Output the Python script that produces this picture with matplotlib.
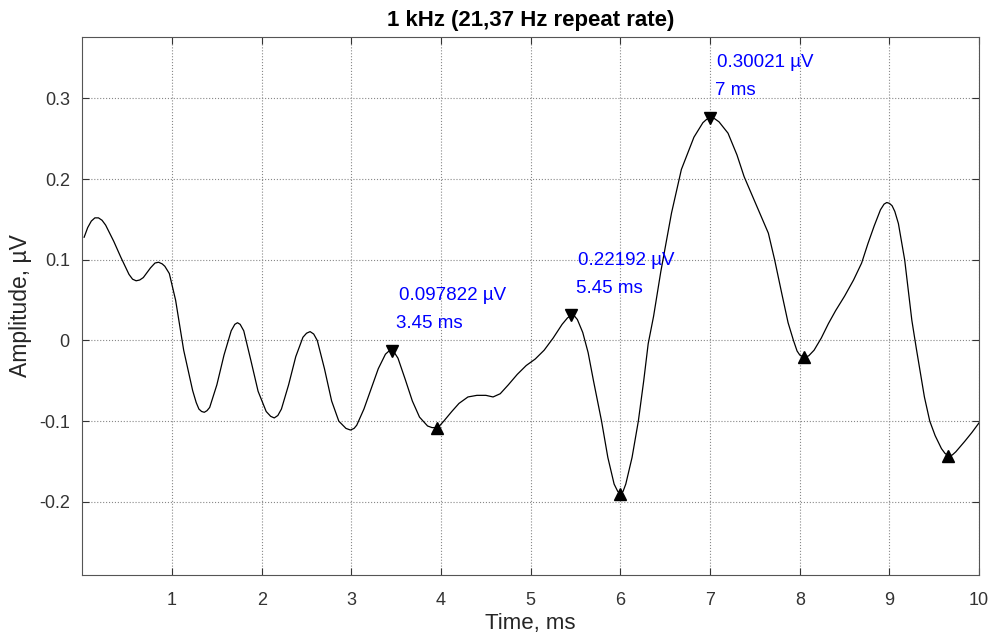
import numpy as np
import matplotlib
matplotlib.use('Agg')
import matplotlib.pyplot as plt

plt.rcParams['font.family'] = ['Liberation Sans', 'DejaVu Sans']

# waveform (time ms, amplitude uV)
t = [0.02, 0.06, 0.10, 0.14, 0.18, 0.22, 0.26, 0.35, 0.43, 0.52, 0.56, 0.60, 0.64, 0.68, 0.76, 0.81, 0.85, 0.89, 0.92, 0.97,
     1.04, 1.13, 1.23, 1.27, 1.30, 1.33, 1.36, 1.39, 1.42, 1.50, 1.58, 1.66, 1.70, 1.73, 1.76, 1.80, 1.88, 1.96,
     2.05, 2.10, 2.14, 2.18, 2.22, 2.30, 2.38, 2.46, 2.50, 2.54, 2.58, 2.62, 2.70, 2.78, 2.86, 2.94, 2.99,
     3.03, 3.06, 3.14, 3.22, 3.30, 3.38, 3.42, 3.45, 3.48, 3.52, 3.60, 3.68, 3.76, 3.85, 3.90, 3.95,
     3.99, 4.03, 4.12, 4.20, 4.30, 4.40, 4.50, 4.58, 4.66, 4.75, 4.85, 4.95,
     5.05, 5.15, 5.25, 5.35, 5.41, 5.45, 5.49, 5.52, 5.58, 5.64, 5.70, 5.79, 5.86, 5.93, 5.97,
     6.00, 6.03, 6.06, 6.13, 6.20, 6.26, 6.31, 6.37, 6.45, 6.57, 6.68, 6.82, 6.92, 6.96,
     7.00, 7.05, 7.10, 7.20, 7.30, 7.38, 7.50, 7.65, 7.72, 7.80, 7.87, 7.93, 7.97,
     8.00, 8.05, 8.10, 8.16, 8.24, 8.32, 8.40, 8.50, 8.60, 8.69, 8.76, 8.83, 8.90, 8.94, 8.97,
     9.00, 9.03, 9.06, 9.10, 9.17, 9.25, 9.30, 9.39, 9.45, 9.51, 9.58, 9.62, 9.66, 9.70, 9.74, 9.84, 9.92, 10.0]
amp = [0.128, 0.140, 0.148, 0.152, 0.152, 0.149, 0.143, 0.123, 0.103, 0.082, 0.076, 0.074, 0.075, 0.078, 0.090, 0.096, 0.097, 0.095, 0.092, 0.083,
       0.050, -0.012, -0.062, -0.077, -0.085, -0.088, -0.089, -0.087, -0.083, -0.055, -0.018, 0.012, 0.020, 0.022, 0.020, 0.012, -0.025, -0.063,
       -0.088, -0.094, -0.096, -0.093, -0.085, -0.055, -0.020, 0.004, 0.009, 0.011, 0.008, 0.000, -0.035, -0.075, -0.100, -0.109, -0.111,
       -0.109, -0.105, -0.085, -0.060, -0.035, -0.017, -0.013, -0.0125, -0.015, -0.022, -0.048, -0.075, -0.095, -0.106, -0.108, -0.108,
       -0.105, -0.100, -0.088, -0.078, -0.070, -0.068, -0.068, -0.070, -0.066, -0.055, -0.042, -0.031,
       -0.023, -0.012, 0.003, 0.020, 0.028, 0.031, 0.030, 0.026, 0.010, -0.015, -0.050, -0.100, -0.145, -0.178, -0.187,
       -0.190, -0.187, -0.178, -0.145, -0.100, -0.050, -0.004, 0.030, 0.085, 0.158, 0.212, 0.252, 0.270, 0.274,
       0.276, 0.275, 0.271, 0.257, 0.230, 0.203, 0.172, 0.133, 0.100, 0.058, 0.022, 0.000, -0.013,
       -0.018, -0.021, -0.019, -0.012, 0.003, 0.021, 0.037, 0.055, 0.075, 0.096, 0.120, 0.142, 0.162, 0.169, 0.171,
       0.170, 0.167, 0.160, 0.145, 0.100, 0.025, -0.010, -0.070, -0.100, -0.118, -0.134, -0.140, -0.143, -0.142, -0.138, -0.125, -0.114, -0.102]

peak_t = [3.45, 5.45, 7.0]
peak_a = [-0.0125, 0.031, 0.276]
trough_t = [3.95, 6.0, 8.05, 9.65]
trough_a = [-0.108, -0.19, -0.021, -0.143]
peak_labels = ['0.097822 \u00b5V', '0.22192 \u00b5V', '0.30021 \u00b5V']
time_labels = ['3.45 ms', '5.45 ms', '7 ms']

fig = plt.figure(figsize=(9.92, 6.38), dpi=100)
ax = fig.add_axes([0.083, 0.099, 0.904, 0.843])

ax.plot(t, amp, color='black', lw=0.9)
ax.plot(peak_t, peak_a, 'v', color='black', ms=8)
ax.plot(trough_t, trough_a, '^', color='black', ms=8)

for pt, pa, l1, l2 in zip(peak_t, peak_a, peak_labels, time_labels):
    ax.text(pt + 0.08, pa + 0.068, l1, color='#0000ff', fontsize=13.5, va='center', ha='left')
    ax.text(pt + 0.05, pa + 0.034, l2, color='#0000ff', fontsize=13.5, va='center', ha='left')

ax.set_xlim(0, 10)
ax.set_ylim(-0.2905, 0.3762)
ax.set_xticks(range(1, 11))
ax.set_yticks([-0.2, -0.1, 0, 0.1, 0.2, 0.3])
ax.set_yticklabels(['-0.2', '-0.1', '0', '0.1', '0.2', '0.3'])
ax.grid(True, linestyle=':', color='#888888', lw=0.8)
ax.tick_params(direction='in', length=5, top=True, right=True, labelsize=13,
               colors='#333333')
ax.tick_params(axis='x', pad=12)
ax.tick_params(axis='y', pad=9)
for s in ax.spines.values():
    s.set_color('#555555')

ax.set_xlabel('Time, ms', fontsize=16, color='#262626', labelpad=3)
ax.set_ylabel('Amplitude, \u00b5V', fontsize=16.5, color='#262626', labelpad=5)
ax.set_title('1 kHz (21,37 Hz repeat rate)', fontsize=16, fontweight='bold', pad=8)

fig.savefig('out.png', dpi=100)
